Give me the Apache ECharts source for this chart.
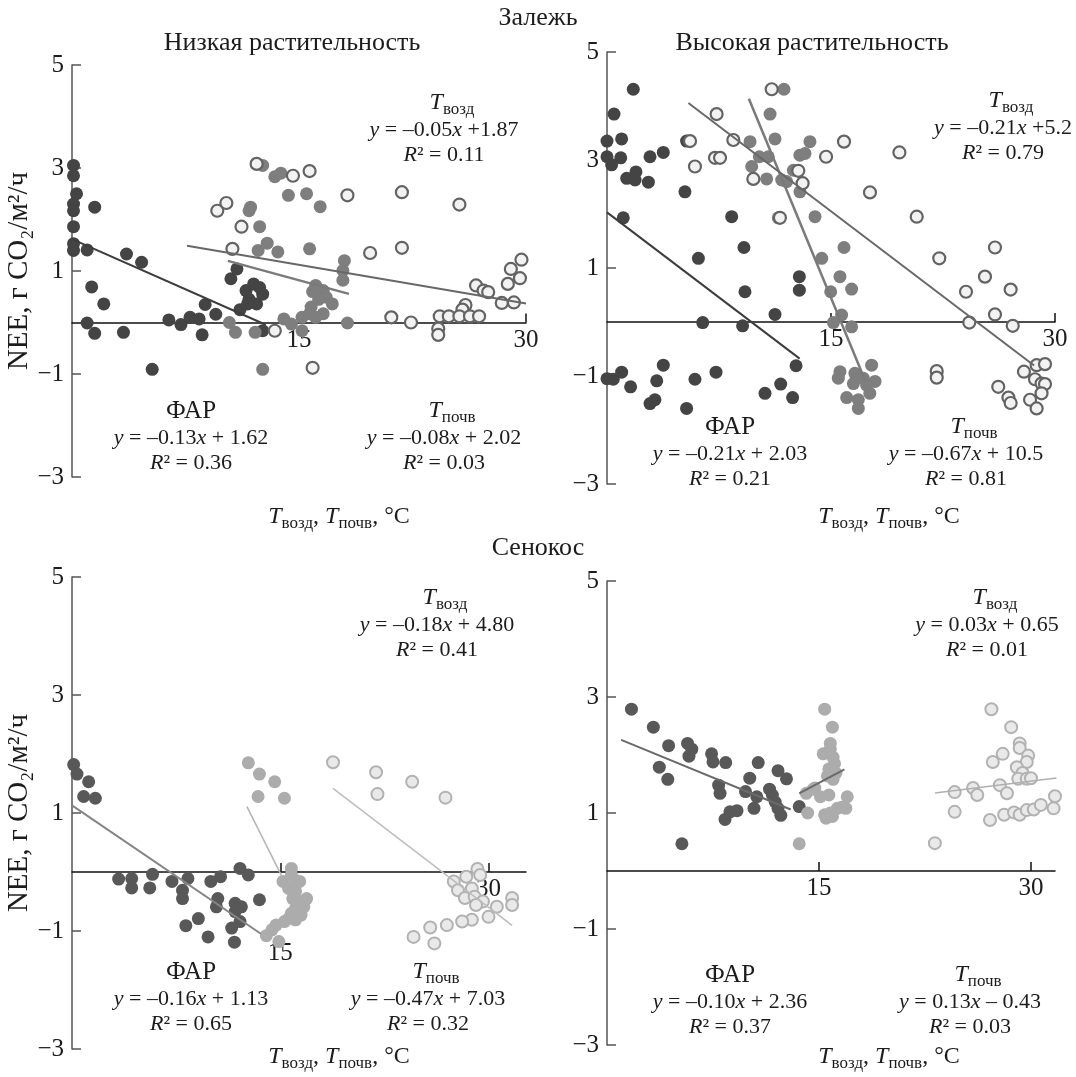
<!DOCTYPE html>
<html>
<head>
<meta charset="utf-8">
<script src="https://cdn.jsdelivr.net/npm/echarts@6/dist/echarts.min.js"></script>
<style>
  html, body { margin: 0; padding: 0; background: #fff; }
  #chart { width: 1076px; height: 1077px; }
</style>
</head>
<body>
<div id="chart"></div>
<script>
// ---------- tick values and labels ----------
const xTicks = [15, 30];
const xTickLabels = ['15', '30'];
const yTicks = [-3, -1, 1, 3, 5];
const yTickLabels = ['−3', '−1', '1', '3', '5'];
const yMin = -3, yMax = 5;

// ---------- Залежь, низкая растительность ----------
const lowPAR = [[0.1,3.05],[0.1,2.85],[0.3,2.5],[0.1,2.3],[0.1,2.17],[0.1,1.86],[0.1,1.53],[0.1,1.4],[1.0,1.41],[1.5,2.24],[3.6,1.33],[4.6,1.17],[1.3,0.69],[2.1,0.36],[1.0,-0.01],[1.5,-0.21],[3.4,-0.19],[5.3,-0.91],[6.4,0.05],[7.2,-0.04],[7.8,0.1],[8.4,0.07],[8.6,-0.24],[8.8,0.35],[9.5,0.16],[10.5,0.85],[10.9,1.04],[11.1,0.25],[11.5,0.62],[12.0,0.75],[12.4,0.68],[11.7,0.45],[12.6,0.55],[12.2,0.36],[11.6,0.36],[12.6,-0.16]];
const lowSoil = [[12.6,3.05],[13.4,2.83],[13.8,2.9],[14.3,2.47],[15.5,2.5],[16.4,2.25],[11.8,2.24],[11.7,2.17],[12.4,1.86],[15.7,1.43],[12.3,1.4],[12.9,1.54],[13.6,1.37],[18.0,1.2],[17.9,1.01],[17.9,0.82],[16.1,0.72],[16.6,0.62],[16.8,0.49],[17.2,0.36],[15.8,0.3],[15.7,0.17],[15.2,0.1],[16.1,0.1],[16.6,0.17],[14.0,0.07],[14.5,-0.03],[10.4,0.0],[10.8,-0.19],[12.1,-0.19],[18.2,-0.01],[12.6,-0.91],[15.2,-0.16],[16.3,0.45],[15.9,0.6]];
const lowAir = [[12.2,3.08],[14.6,2.85],[15.7,2.94],[18.2,2.47],[21.8,2.53],[25.6,2.29],[9.6,2.17],[10.2,2.32],[11.2,1.86],[10.6,1.43],[19.7,1.35],[21.8,1.45],[29.7,1.22],[29.0,1.04],[29.6,0.86],[28.8,0.75],[26.7,0.72],[27.2,0.62],[27.5,0.59],[29.2,0.39],[28.4,0.38],[26.0,0.34],[25.8,0.25],[24.3,0.12],[24.9,0.12],[25.6,0.12],[26.3,0.12],[26.9,0.12],[21.1,0.1],[22.4,0.0],[24.2,-0.12],[24.2,-0.24],[13.4,-0.16],[15.9,-0.88]];
// regression: [slope, intercept, xFrom, xTo] for ФАР, Tпочв, Tвозд
const lowFits = [[-0.13, 1.62, 0, 12.8], [-0.08, 2.02, 10.3, 18.3], [-0.05, 1.87, 7.6, 30]];

// ---------- Залежь, высокая растительность ----------
const highPAR = [[1.76,4.31],[0.47,3.85],[0.0,3.35],[0.98,3.39],[0.0,3.06],[0.92,3.04],[0.31,2.91],[1.32,2.66],[1.88,2.63],[1.94,2.78],[2.77,2.59],[2.88,3.06],[3.77,3.14],[5.33,3.35],[5.22,2.41],[1.09,1.93],[8.35,1.95],[6.12,1.18],[9.17,1.38],[9.24,0.56],[12.88,0.84],[12.88,0.59],[11.25,0.14],[6.41,-0.01],[9.08,-0.07],[0.98,-0.93],[0.42,-1.06],[0.0,-1.05],[1.58,-1.2],[3.33,-1.09],[3.77,-0.8],[2.88,-1.51],[3.21,-1.44],[5.33,-1.6],[5.89,-1.06],[7.3,-0.93],[10.58,-1.32],[11.63,-1.15],[12.43,-1.4],[12.66,-0.81]];
const highSoil = [[11.85,4.31],[10.92,3.85],[11.25,3.39],[9.58,3.34],[10.2,3.06],[10.8,3.06],[9.69,2.88],[10.69,2.65],[11.7,2.63],[12.03,2.6],[12.48,2.81],[12.92,3.09],[13.26,3.12],[13.59,3.34],[12.92,2.41],[11.47,1.93],[13.93,1.95],[15.87,1.38],[14.38,1.18],[15.6,0.84],[16.38,0.61],[14.98,0.56],[15.16,-0.01],[15.71,0.13],[16.38,-0.09],[15.6,-0.92],[15.49,-1.04],[16.6,-0.95],[16.5,-1.14],[17.16,-1.04],[17.72,-0.8],[17.95,-1.1],[16.05,-1.4],[16.83,-1.44],[16.83,-1.6],[17.6,-1.32],[17.39,-1.17]];
const highAir = [[11.03,4.31],[7.34,3.85],[8.46,3.37],[5.56,3.35],[7.23,3.04],[7.57,3.04],[5.89,2.88],[9.8,2.65],[12.81,2.8],[13.1,2.57],[11.58,1.93],[14.67,3.06],[15.87,3.34],[19.58,3.14],[17.61,2.4],[20.74,1.95],[22.25,1.18],[25.98,1.38],[25.31,0.84],[24.04,0.56],[27.03,0.6],[24.26,-0.01],[25.98,0.14],[27.17,-0.07],[22.08,-0.91],[22.08,-1.03],[26.2,-1.2],[26.88,-1.4],[27.03,-1.5],[27.92,-0.92],[28.77,-0.8],[29.33,-0.78],[28.66,-1.06],[29.1,-1.14],[29.33,-1.15],[29.1,-1.32],[28.33,-1.44],[28.77,-1.6]];
const highFits = [[-0.21, 2.03, 0, 12.9], [-0.67, 10.5, 9.5, 17.3], [-0.21, 5.2, 5.45, 28.6]];

// ---------- Сенокос, левая панель ----------
const hayAPAR = [[0.12,1.82],[0.36,1.66],[1.2,1.53],[0.84,1.28],[1.68,1.25],[3.36,-0.12],[4.3,-0.11],[4.3,-0.27],[5.8,-0.04],[5.6,-0.27],[7.2,-0.16],[8.35,-0.11],[7.96,-0.31],[7.96,-0.45],[10.0,-0.16],[10.7,-0.08],[12.1,0.06],[12.7,-0.05],[10.5,-0.45],[10.4,-0.59],[11.75,-0.53],[12.2,-0.59],[11.75,-0.67],[12.1,-0.84],[11.5,-0.95],[13.5,-0.47],[8.2,-0.91],[9.1,-0.79],[9.8,-1.1],[11.7,-1.19]];
const hayASoil = [[12.7,1.85],[13.5,1.66],[14.6,1.53],[13.4,1.28],[15.3,1.25],[15.8,0.06],[15.8,-0.05],[16.1,-0.14],[15.2,-0.16],[16.4,-0.16],[15.6,-0.28],[16.1,-0.33],[15.9,-0.45],[16.5,-0.5],[16.9,-0.45],[16.1,-0.62],[16.7,-0.59],[15.8,-0.7],[16.5,-0.73],[15.3,-0.84],[16.1,-0.81],[15.6,-0.79],[14.7,-0.9],[14.4,-0.98],[14.0,-1.08],[14.9,-1.18]];
const hayAAir = [[18.8,1.86],[21.9,1.69],[24.5,1.53],[22.0,1.32],[26.9,1.26],[29.2,0.05],[28.4,-0.08],[29.4,-0.05],[27.5,-0.16],[27.8,-0.31],[28.8,-0.28],[28.3,-0.44],[29.0,-0.42],[29.6,-0.5],[29.1,-0.56],[31.7,-0.44],[31.7,-0.56],[30.6,-0.59],[30.0,-0.76],[28.8,-0.81],[28.1,-0.84],[27.0,-0.9],[25.8,-0.94],[24.6,-1.1],[26.1,-1.21]];
const hayAFits = [[-0.16, 1.13, 0, 13.6], [-0.47, 7.03, 12.6, 15.1], [-0.18, 4.80, 18.8, 31.7]];

// ---------- Сенокос, правая панель ----------
const hayBPAR = [[1.73,2.79],[3.28,2.48],[4.36,2.16],[3.7,1.79],[4.3,1.58],[5.7,2.2],[6.0,2.1],[5.8,1.98],[7.4,2.02],[7.5,1.88],[8.4,1.87],[7.9,1.48],[8.0,1.34],[10.1,1.6],[10.7,1.87],[9.8,1.37],[10.6,1.28],[10.4,1.08],[12.1,1.73],[12.7,1.59],[11.5,1.41],[11.7,1.31],[11.9,1.19],[12.1,1.08],[12.3,0.96],[8.35,0.89],[8.7,1.02],[9.2,1.04],[13.6,1.11],[5.3,0.47]];
const hayBSoil = [[15.4,2.79],[15.95,2.48],[15.8,2.2],[15.8,2.1],[15.3,2.02],[16.0,1.96],[16.1,1.85],[15.7,1.76],[16.2,1.69],[15.6,1.64],[16.0,1.58],[14.6,1.41],[14.1,1.34],[15.1,1.28],[15.7,1.31],[17.0,1.28],[14.2,1.0],[15.4,0.97],[15.8,1.0],[16.3,1.08],[16.9,1.08],[15.95,0.94],[15.5,0.91],[13.6,0.47],[14.7,1.43],[16.6,1.1]];
const hayBAir = [[27.2,2.79],[28.6,2.48],[29.2,2.2],[29.2,2.12],[27.3,1.88],[28.0,2.02],[29.8,1.99],[29.7,1.88],[29.0,1.79],[29.4,1.69],[29.1,1.59],[29.7,1.59],[30.0,1.6],[24.6,1.36],[25.9,1.43],[26.2,1.31],[27.8,1.48],[28.3,1.34],[24.6,1.02],[27.1,0.88],[28.1,0.97],[28.8,1.01],[29.2,0.97],[29.7,1.05],[30.2,1.06],[30.7,1.14],[31.6,1.08],[31.7,1.29],[23.2,0.48]];
const hayBFits = [[-0.10, 2.36, 1.0, 13.0], [0.13, -0.43, 13.6, 16.8], [0.03, 0.65, 23.2, 31.8]];

// equation captions: [ФАР, Tпочв, Tвозд] per panel
const lowEq  = [['–0.13', '+ 1.62', '0.36'], ['–0.08', '+ 2.02', '0.03'], ['–0.05', '+1.87', '0.11']];
const highEq = [['–0.21', '+ 2.03', '0.21'], ['–0.67', '+ 10.5', '0.81'], ['–0.21', '+5.2', '0.79']];
const hayAEq = [['–0.16', '+ 1.13', '0.65'], ['–0.47', '+ 7.03', '0.32'], ['–0.18', '+ 4.80', '0.41']];
const hayBEq = [['–0.10', '+ 2.36', '0.37'], ['0.13', '– 0.43', '0.03'], ['0.03', '+ 0.65', '0.01']];

// ---------- drawing ----------
const FONT = '"Liberation Serif", "DejaVu Serif", "Times New Roman", serif';
const INK = '#1c1c1c';

const darkTop = { color: '#444444' };
const grayTop = { color: '#7e7e7e' };
const openTop = { color: '#f2f2f2', borderColor: '#636363', borderWidth: 2.2 };
const darkBot = { color: '#585858' };
const grayBot = { color: '#acacac' };
const openBot = { color: '#e9e9e9', borderColor: '#b2b2b2', borderWidth: 2 };

const panels = [
  { grid: { left: 72, top: 65, width: 454, height: 412 }, xMin: 0, xMax: 30,
    sets: [lowPAR, lowSoil, lowAir], fits: lowFits, eq: lowEq,
    styles: [darkTop, grayTop, openTop], lines: [['#3d3d3d', 2], ['#7a7a7a', 2.5], ['#686868', 2]],
    yName: true, lowered15: false,
    cap: { par: [191, 411], soil: [444, 411], air: [444, 103] } },
  { grid: { left: 607, top: 52, width: 448, height: 432 }, xMin: 0, xMax: 30,
    sets: [highPAR, highSoil, highAir], fits: highFits, eq: highEq,
    styles: [darkTop, grayTop, openTop], lines: [['#3d3d3d', 2], ['#7a7a7a', 2.5], ['#686868', 2]],
    yName: false, lowered15: false,
    cap: { par: [730, 427], soil: [966, 427], air: [1003, 101] } },
  { grid: { left: 72, top: 577, width: 454, height: 472 }, xMin: 0, xMax: 32.7,
    sets: [hayAPAR, hayASoil, hayAAir], fits: hayAFits, eq: hayAEq,
    styles: [darkBot, grayBot, openBot], lines: [['#858585', 2], ['#b3b3b3', 1.5], ['#bdbdbd', 1.5]],
    yName: true, lowered15: true,
    cap: { par: [191, 972], soil: [428, 972], air: [437, 598] } },
  { grid: { left: 607, top: 581, width: 448, height: 464 }, xMin: 0, xMax: 31.7,
    sets: [hayBPAR, hayBSoil, hayBAir], fits: hayBFits, eq: hayBEq,
    styles: [darkBot, grayBot, openBot], lines: [['#6a6a6a', 2], ['#6a6a6a', 2], ['#b0b0b0', 1.5]],
    yName: false, lowered15: false,
    cap: { par: [730, 975], soil: [970, 975], air: [987, 598] } }
];

const rich = {
  i: { fontFamily: FONT, fontSize: 22, fontStyle: 'italic', lineHeight: 30, color: INK },
  T: { fontFamily: FONT, fontSize: 24, fontStyle: 'italic', lineHeight: 30, color: INK },
  s: { fontFamily: FONT, fontSize: 17, lineHeight: 15, verticalAlign: 'bottom', color: INK },
  low: { fontFamily: FONT, fontSize: 25, color: INK, padding: [64, 0, 0, 0] },
  n: { fontFamily: FONT, fontSize: 25, color: INK }
};

function text(x, y, str, size) {
  return {
    type: 'text', x: x, y: y, silent: true,
    style: {
      text: str, fontFamily: FONT, fontSize: size || 22, fill: INK,
      align: 'center', verticalAlign: 'middle',
      textAlign: 'center', textVerticalAlign: 'middle',
      lineHeight: 30, rich: rich
    }
  };
}

const grids = [], xAxes = [], yAxes = [], series = [], graphics = [];

panels.forEach(function (p, k) {
  grids.push(Object.assign({ containLabel: false }, p.grid));
  // the x axis runs along NEE = 0, inside the plotting area
  const zeroOffset = -p.grid.height * (0 - yMin) / (yMax - yMin);
  xAxes.push({
    gridIndex: k, type: 'value', min: p.xMin, max: p.xMax,
    position: 'bottom', offset: zeroOffset,
    axisLine: { onZero: false, lineStyle: { color: '#111', width: 1.5 } },
    axisTick: { show: true, inside: true, length: 9, customValues: xTicks, lineStyle: { color: '#111', width: 1.5 } },
    axisLabel: {
      customValues: xTicks, margin: 5, fontFamily: FONT, fontSize: 25, color: INK, rich: rich,
      formatter: function (v) {
        const s = xTickLabels[xTicks.indexOf(v)];
        return (p.lowered15 && v === 15) ? '{low|' + s + '}' : '{n|' + s + '}';
      }
    },
    splitLine: { show: false }
  });
  yAxes.push({
    gridIndex: k, type: 'value', min: yMin, max: yMax,
    name: p.yName ? 'NEE, г CO₂/м²/ч' : '', nameLocation: 'middle', nameRotate: 90, nameGap: 31,
    nameTextStyle: { fontFamily: FONT, fontSize: 29, color: INK },
    axisLine: { show: true, onZero: false, lineStyle: { color: '#555', width: 1.5 } },
    axisTick: { show: true, inside: true, length: 9, customValues: yTicks, lineStyle: { color: '#555', width: 1.5 } },
    axisLabel: {
      customValues: yTicks, margin: 8, fontFamily: FONT, fontSize: 25, color: INK,
      formatter: function (v) { return yTickLabels[yTicks.indexOf(v)]; }
    },
    splitLine: { show: false }
  });

  p.sets.forEach(function (d, j) {
    series.push({
      type: 'scatter', xAxisIndex: k, yAxisIndex: k, data: d,
      symbol: 'circle', symbolSize: j === 2 ? 12 : 13,
      itemStyle: Object.assign({ opacity: 1 }, p.styles[j]),
      silent: true, z: 2 + j
    });
  });
  p.fits.forEach(function (f, j) {
    const m = f[0], b = f[1];
    series.push({
      type: 'line', xAxisIndex: k, yAxisIndex: k, symbol: 'none', silent: true, z: 6,
      data: [[f[2], m * f[2] + b], [f[3], m * f[3] + b]],
      lineStyle: { color: p.lines[j][0], width: p.lines[j][1] }
    });
  });

  // captions with the fitted equations
  const names = ['{n|ФАР}', '{T|T}{s|почв}', '{T|T}{s|возд}'];
  const pos = [p.cap.par, p.cap.soil, p.cap.air];
  p.eq.forEach(function (e, j) {
    const c = pos[j];
    graphics.push(text(c[0] + (j === 0 ? 0 : 8), c[1], names[j], 22));
    graphics.push(text(c[0], c[1] + 27, '{i|y} = ' + e[0] + '{i|x} ' + e[1], 22));
    graphics.push(text(c[0], c[1] + 52, '{i|R}² = ' + e[2], 22));
  });
});

// titles and axis captions
graphics.push(text(538, 18, 'Залежь', 26));
graphics.push(text(292, 43, 'Низкая растительность', 26));
graphics.push(text(812, 43, 'Высокая растительность', 26));
graphics.push(text(538, 548, 'Сенокос', 26));
const xName = '{T|T}{s|возд}, {T|T}{s|почв}, °C';
graphics.push(text(339, 517, xName, 24));
graphics.push(text(889, 517, xName, 24));
graphics.push(text(339, 1057, xName, 24));
graphics.push(text(889, 1057, xName, 24));

const chart = echarts.init(document.getElementById('chart'), null, { renderer: 'canvas' });
chart.setOption({
  animation: false,
  backgroundColor: '#ffffff',
  grid: grids,
  xAxis: xAxes,
  yAxis: yAxes,
  series: series,
  graphic: graphics
});
</script>
</body>
</html>
